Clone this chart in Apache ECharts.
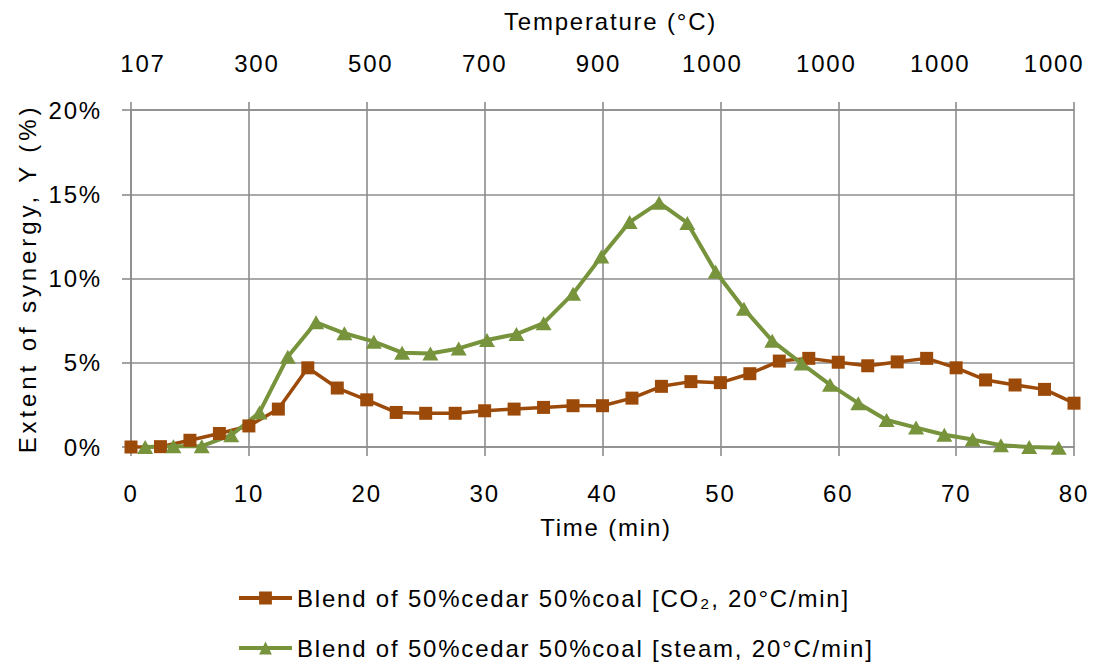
<!DOCTYPE html>
<html>
<head>
<meta charset="utf-8">
<script src="https://cdn.jsdelivr.net/npm/echarts@6/dist/echarts.min.js"></script>
<style>
  html, body { margin: 0; padding: 0; background: #fff; }
  #chart { width: 1094px; height: 666px; }
  /* wide, Excel-like lettering */
  #chart svg text { letter-spacing: 1.8px; }
  #chart svg text[style*="Arimo"] { letter-spacing: 3.9px; }
</style>
</head>
<body>
<div id="chart"></div>
<script>
// Time (min) of each CO2 measurement
const co2Time = [0, 2.5, 5, 7.5, 10, 12.5, 15, 17.5, 20, 22.5, 25, 27.5, 30, 32.5, 35, 37.5, 40,
  42.5, 45, 47.5, 50, 52.5, 55, 57.5, 60, 62.5, 65, 67.5, 70, 72.5, 75, 77.5, 80];
// Extent of synergy (%) under CO2
const co2Synergy = [0, 0.02, 0.4, 0.8, 1.25, 2.25, 4.7, 3.5, 2.8, 2.05, 2.0, 2.0, 2.15, 2.25, 2.35, 2.45, 2.45,
  2.9, 3.6, 3.88, 3.82, 4.35, 5.1, 5.26, 5.03, 4.82, 5.05, 5.26, 4.7, 3.98, 3.68, 3.42, 2.6];

// Time (min) of each steam measurement
const steamTime = [1.2, 3.6, 6.0, 8.5, 10.9, 13.3, 15.7, 18.1, 20.6, 23.0, 25.4, 27.8, 30.2, 32.7, 35.0, 37.5, 39.9,
  42.3, 44.8, 47.2, 49.6, 52.0, 54.4, 56.9, 59.3, 61.7, 64.1, 66.6, 69.0, 71.4, 73.8, 76.2, 78.7];
// Extent of synergy (%) under steam
const steamSynergy = [0, 0.05, 0.05, 0.7, 2.05, 5.35, 7.4, 6.75, 6.25, 5.6, 5.55, 5.85, 6.35, 6.7, 7.35, 9.1, 11.3,
  13.35, 14.5, 13.3, 10.4, 8.2, 6.3, 4.95, 3.7, 2.6, 1.6, 1.15, 0.73, 0.44, 0.1, 0.0, -0.05];

// Temperature labels on the top axis
const tempLabels = ['107', '300', '500', '700', '900', '1000', '1000', '1000', '1000'];
const tempLabelSlots = [0, 10, 20, 30, 40, 50, 60, 70, 80];

const seriesNames = [
  'Blend of 50%cedar 50%coal [CO\u2082, 20\u00B0C/min]',
  'Blend of 50%cedar 50%coal [steam, 20\u00B0C/min]'
];

const FONT = 'Liberation Sans, Arial, sans-serif';
const FONT_YNAME = 'Liberation Sans, Arimo, sans-serif';
const FS = 24;
const GRID = '#8c8c8c';
const BROWN = '#9C4A09';
const GREEN = '#77933C';

const pairs = (xs, ys) => xs.map((x, i) => [x, ys[i]]);
const txt = { fontFamily: FONT, fontSize: FS, color: '#000' };

const chart = echarts.init(document.getElementById('chart'), null, { renderer: 'svg' });

chart.setOption({
  animation: false,
  backgroundColor: '#ffffff',
  textStyle: { fontFamily: FONT, color: '#000' },
  grid: { left: 131, right: 20, top: 110, bottom: 219, containLabel: false, outerBoundsMode: 'none' },
  xAxis: [
    {
      // time axis
      type: 'value', position: 'bottom', min: 0, max: 80, interval: 10,
      name: 'Time (min)', nameLocation: 'middle', nameGap: 68,
      nameTextStyle: Object.assign({ padding: [0, 0, 0, 7] }, txt),
      axisLine: { show: true, lineStyle: { color: GRID, width: 1.6 } },
      axisTick: { show: true, length: 9, lineStyle: { color: GRID, width: 1.6 } },
      axisLabel: Object.assign({ margin: 34 }, txt),
      splitLine: { show: true, lineStyle: { color: GRID, width: 1.6 } }
    },
    {
      // top frame with its tick marks and the temperature title
      type: 'value', position: 'top', min: 0, max: 80, interval: 10,
      name: 'Temperature (\u00B0C)', nameLocation: 'middle', nameGap: 77,
      nameTextStyle: Object.assign({ padding: [0, 0, 0, 16] }, txt),
      axisLine: { show: true, lineStyle: { color: GRID, width: 1.6 } },
      axisTick: { show: true, length: 8, lineStyle: { color: GRID, width: 1.6 } },
      axisLabel: { show: false },
      splitLine: { show: false }
    },
    {
      // temperature labels, spread slightly tighter than the ticks
      type: 'value', position: 'top', min: -1.05, max: 81.75,
      axisLine: { show: false },
      axisTick: { show: false },
      splitLine: { show: false },
      axisLabel: Object.assign({
        margin: 35,
        customValues: tempLabelSlots,
        formatter: (v) => tempLabels[tempLabelSlots.indexOf(Math.round(v))] || ''
      }, txt)
    }
  ],
  yAxis: {
    type: 'value', min: 0, max: 20, interval: 5,
    name: 'Extent of synergy, Y (%)', nameLocation: 'middle', nameGap: 92,
    nameTextStyle: { fontFamily: FONT_YNAME, fontSize: FS, color: '#000' },
    axisLine: { show: true, lineStyle: { color: GRID, width: 1.6 } },
    axisTick: { show: true, length: 9, lineStyle: { color: GRID, width: 1.6 } },
    axisLabel: Object.assign({ margin: 29, formatter: '{value}%' }, txt),
    splitLine: { show: true, lineStyle: { color: GRID, width: 1.6 } }
  },
  legend: {
    orient: 'vertical', left: 237, top: 586, padding: 0, itemGap: 26,
    itemWidth: 53, itemHeight: 16,
    lineStyle: { width: 4 },
    textStyle: txt,
    data: seriesNames
  },
  series: [
    {
      name: seriesNames[0], type: 'line', xAxisIndex: 0,
      data: pairs(co2Time, co2Synergy),
      symbol: 'rect', symbolSize: 13, clip: false,
      lineStyle: { color: BROWN, width: 3.5 },
      itemStyle: { color: BROWN }
    },
    {
      name: seriesNames[1], type: 'line', xAxisIndex: 0,
      data: pairs(steamTime, steamSynergy),
      symbol: 'triangle', symbolSize: [16, 14], clip: false,
      lineStyle: { color: GREEN, width: 4 },
      itemStyle: { color: GREEN }
    }
  ]
});
</script>
</body>
</html>
